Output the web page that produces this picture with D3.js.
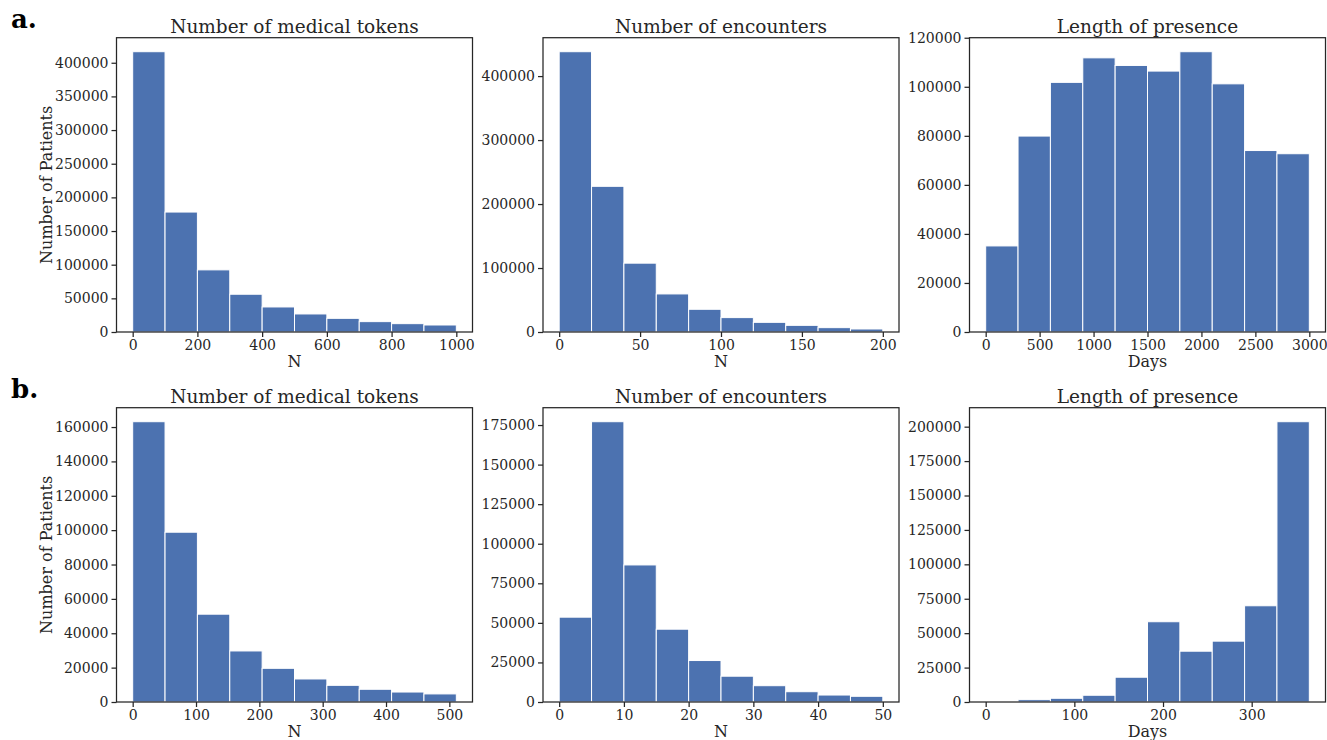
<!DOCTYPE html>
<html>
<head>
<meta charset="utf-8">
<script src="https://cdn.jsdelivr.net/npm/d3@7"></script>
<style>
  html, body { margin: 0; padding: 0; background: #fff; }
  svg { display: block; }
  text { font-family: "DejaVu Serif", serif; fill: #262626; }
</style>
</head>
<body>
<svg id="chart" width="1327" height="740"></svg>
<script>
// ---------- data ----------
const rowLabels = ["a.", "b."];
const panelTitles = ["Number of medical tokens", "Number of encounters", "Length of presence"];
const xLabels = ["N", "N", "Days"];
const yLabel = "Number of Patients";

// row a
const tokensA_range = [0, 1000];
const tokensA_counts = [416400, 178200, 92300, 56100, 37200, 26800, 20300, 15400, 12400, 10400];
const tokensA_xticks = [0, 200, 400, 600, 800, 1000];
const tokensA_yticks = [0, 50000, 100000, 150000, 200000, 250000, 300000, 350000, 400000];

const encA_range = [0, 200];
const encA_counts = [438100, 227700, 107600, 59500, 35500, 22500, 15100, 10400, 6800, 4700];
const encA_xticks = [0, 50, 100, 150, 200];
const encA_yticks = [0, 100000, 200000, 300000, 400000];

const daysA_range = [0, 3000];
const daysA_counts = [35100, 79900, 101800, 111800, 108700, 106400, 114300, 101200, 74000, 72700];
const daysA_xticks = [0, 500, 1000, 1500, 2000, 2500, 3000];
const daysA_yticks = [0, 20000, 40000, 60000, 80000, 100000, 120000];

// row b
const tokensB_range = [0, 511];
const tokensB_counts = [163100, 98800, 51100, 29700, 19600, 13400, 9700, 7400, 5800, 4700];
const tokensB_xticks = [0, 100, 200, 300, 400, 500];
const tokensB_yticks = [0, 20000, 40000, 60000, 80000, 100000, 120000, 140000, 160000];

const encB_range = [0, 50];
const encB_counts = [53600, 177100, 86600, 46000, 26200, 16300, 10300, 6500, 4400, 3600];
const encB_xticks = [0, 10, 20, 30, 40, 50];
const encB_yticks = [0, 25000, 50000, 75000, 100000, 125000, 150000, 175000];

const daysB_range = [0, 365];
const daysB_counts = [500, 1700, 2700, 4900, 18000, 58300, 36900, 44200, 69900, 203600];
const daysB_xticks = [0, 100, 200, 300];
const daysB_yticks = [0, 25000, 50000, 75000, 100000, 125000, 150000, 175000, 200000];

const panels = [
  {row: 0, col: 0, range: tokensA_range, counts: tokensA_counts, xt: tokensA_xticks, yt: tokensA_yticks},
  {row: 0, col: 1, range: encA_range, counts: encA_counts, xt: encA_xticks, yt: encA_yticks},
  {row: 0, col: 2, range: daysA_range, counts: daysA_counts, xt: daysA_xticks, yt: daysA_yticks},
  {row: 1, col: 0, range: tokensB_range, counts: tokensB_counts, xt: tokensB_xticks, yt: tokensB_yticks},
  {row: 1, col: 1, range: encB_range, counts: encB_counts, xt: encB_xticks, yt: encB_yticks},
  {row: 1, col: 2, range: daysB_range, counts: daysB_counts, xt: daysB_xticks, yt: daysB_yticks}
];

// ---------- layout ----------
const colX = [116.5, 543, 969.5];
const rowY = [37.7, 407.7];
const pw = 356, ph = 294.3;
const barColor = "#4c72b0";
const ink = "#262626";

const svg = d3.select("#chart");

// row labels
rowLabels.forEach((lab, i) => {
  svg.append("text")
    .attr("x", 11).attr("y", rowY[i] - 9.5)
    .attr("font-size", 26).attr("font-weight", "bold")
    .style("fill", "#000")
    .text(lab);
});

panels.forEach(p => {
  const ox = colX[p.col], oy = rowY[p.row];
  const g = svg.append("g").attr("transform", `translate(${ox},${oy})`);
  const n = p.counts.length;
  const [lo, hi] = p.range;
  const w = (hi - lo) / n;
  const bins = p.counts.map((c, i) => ({x0: lo + i * w, x1: lo + (i + 1) * w, c}));

  const pad = (hi - lo) * 0.05;
  const x = d3.scaleLinear().domain([lo - pad, hi + pad]).range([0, pw]);
  const yMax = d3.max(p.counts) * 1.05;
  const y = d3.scaleLinear().domain([0, yMax]).range([ph, 0]);

  g.selectAll("rect.bar").data(bins).join("rect")
    .attr("class", "bar")
    .attr("x", d => x(d.x0))
    .attr("width", d => x(d.x1) - x(d.x0))
    .attr("y", d => y(d.c))
    .attr("height", d => y(0) - y(d.c))
    .attr("fill", barColor)
    .attr("stroke", "#fff")
    .attr("stroke-width", 1);

  // frame
  g.append("rect")
    .attr("x", 0).attr("y", 0).attr("width", pw).attr("height", ph)
    .attr("fill", "none").attr("stroke", ink).attr("stroke-width", 1.25);

  const xa = g.append("g").attr("transform", `translate(0,${ph})`)
    .call(d3.axisBottom(x).tickValues(p.xt).tickFormat(d3.format("d")).tickSize(5).tickSizeOuter(0).tickPadding(3.5));
  const ya = g.append("g")
    .call(d3.axisLeft(y).tickValues(p.yt).tickFormat(d3.format("d")).tickSize(5).tickSizeOuter(0).tickPadding(3));
  [xa, ya].forEach(a => {
    a.select(".domain").remove();
    a.selectAll(".tick line").attr("stroke", ink).attr("stroke-width", 1.25);
    a.selectAll(".tick text").attr("font-family", "DejaVu Serif").attr("font-size", 14).style("fill", ink);
  });

  // title
  g.append("text")
    .attr("x", pw / 2).attr("y", -5)
    .attr("text-anchor", "middle").attr("font-size", 18.5)
    .text(panelTitles[p.col]);

  // x label
  g.append("text")
    .attr("x", pw / 2).attr("y", ph + 35)
    .attr("text-anchor", "middle").attr("font-size", 16)
    .text(xLabels[p.col]);

  // y label
  if (p.col === 0) {
    g.append("text")
      .attr("transform", `translate(${-65},${ph / 2}) rotate(-90)`)
      .attr("text-anchor", "middle").attr("font-size", 16)
      .text(yLabel);
  }
});
</script>
</body>
</html>
